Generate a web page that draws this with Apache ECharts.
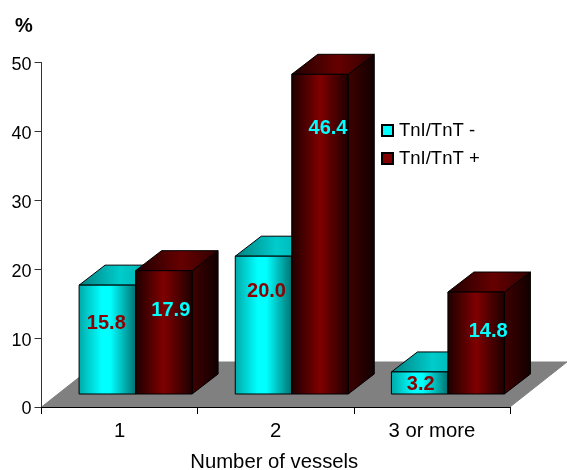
<!DOCTYPE html>
<html>
<head>
<meta charset="utf-8">
<style>
html, body { margin: 0; padding: 0; background: #fff; }
#chart { width: 567px; height: 470px; }
</style>
<script src="https://cdn.jsdelivr.net/npm/echarts@6/dist/echarts.min.js"></script>
</head>
<body>
<div id="chart"></div>
<script>
var categories = ['1', '2', '3 or more'];
var negativeValues = [15.8, 20.0, 3.2];
var positiveValues = [17.9, 46.4, 14.8];
var yTicks = { min: 0, max: 50, interval: 10 };

// value labels were placed by hand in the original, [dx, dy] from top centre of the front face
var negativeNudge = [[-1, 38], [3, 35], [1, 13]];
var positiveNudge = [[7, 40], [8, 54], [12, 39]];

var FONT = '"Liberation Sans", Arial, sans-serif';
var BAR_W = 56.5, DEPTH_X = 26, DEPTH_Y = 20;
var FLOOR_X = 57, FLOOR_Y = 45, LIFT = 13;

function hGrad(stops) {
    return new echarts.graphic.LinearGradient(0, 0, 1, 0, stops.map(function(s) {
        return { offset: s[0], color: s[1] };
    }));
}

var cyanFront = hGrad([[0, '#00a8a8'], [0.4, '#00ffff'], [0.55, '#00ffff'], [1, '#007070']]);
var cyanTop = hGrad([[0, '#008080'], [0.5, '#00cccc'], [1, '#00a0a0']]);
var cyanSide = hGrad([[0, '#006060'], [1, '#003030']]);
var redFront = hGrad([[0, '#1c0000'], [0.5, '#800000'], [1, '#1c0000']]);
var redTop = hGrad([[0, '#200000'], [0.55, '#660000'], [1, '#300000']]);
var redSide = hGrad([[0, '#400000'], [1, '#100000']]);

function barRenderer(slot, front, top, side, labelColor, nudge) {
    return function(params, api) {
        var i = api.value(0);
        var topPt = api.coord([i, api.value(1)]);
        var basePt = api.coord([i, 0]);
        var x0 = topPt[0] - 40.5 + slot * BAR_W;
        var x1 = x0 + BAR_W;
        var yTop = topPt[1] - LIFT;
        var yBase = basePt[1] - LIFT;
        function poly(points, fill) {
            return {
                type: 'polygon',
                shape: { points: points },
                style: { fill: fill, stroke: '#000', lineWidth: 1, lineJoin: 'round' }
            };
        }
        return {
            type: 'group',
            children: [
                poly([[x1, yTop], [x1 + DEPTH_X, yTop - DEPTH_Y], [x1 + DEPTH_X, yBase - DEPTH_Y], [x1, yBase]], side),
                poly([[x0, yTop], [x0 + DEPTH_X, yTop - DEPTH_Y], [x1 + DEPTH_X, yTop - DEPTH_Y], [x1, yTop]], top),
                poly([[x0, yTop], [x1, yTop], [x1, yBase], [x0, yBase]], front),
                {
                    type: 'text',
                    z2: 10,
                    style: {
                        text: api.value(1).toFixed(1),
                        x: (x0 + x1) / 2 + nudge[i][0],
                        y: yTop + nudge[i][1],
                        fill: labelColor,
                        font: 'bold 20px ' + FONT,
                        align: 'center',
                        verticalAlign: 'middle'
                    }
                }
            ]
        };
    };
}

function floorRenderer(params) {
    var c = params.coordSys;
    var yb = c.y + c.height;
    return {
        type: 'polygon',
        shape: { points: [[c.x, yb], [c.x + c.width, yb], [c.x + c.width + FLOOR_X, yb - FLOOR_Y], [c.x + FLOOR_X, yb - FLOOR_Y]] },
        style: { fill: '#808080', stroke: '#808080', lineWidth: 1 }
    };
}

function toRows(values) {
    return values.map(function(v, i) { return [i, v]; });
}

var myChart = echarts.init(document.getElementById('chart'), null, { renderer: 'canvas' });
myChart.setOption({
    animation: false,
    backgroundColor: '#fff',
    textStyle: { fontFamily: FONT },
    title: {
        text: '%',
        left: 10,
        top: 11,
        textStyle: { fontSize: 20, fontWeight: 'bold', color: '#000', fontFamily: FONT }
    },
    legend: {
        orient: 'vertical',
        left: 376,
        top: 116,
        itemWidth: 11,
        itemHeight: 11,
        itemGap: 9,
        icon: 'rect',
        selectedMode: false,
        data: ['TnI/TnT -', 'TnI/TnT +'],
        textStyle: { fontSize: 18.5, color: '#000', fontFamily: FONT, padding: [0, 0, 0, 1] }
    },
    grid: { left: 41.5, right: 57, top: 62.5, bottom: 63, outerBoundsMode: 'none' },
    xAxis: {
        type: 'category',
        data: categories,
        z: 5,
        name: 'Number of vessels',
        nameLocation: 'middle',
        nameGap: 55,
        nameTextStyle: { fontSize: 20.3, color: '#000', fontFamily: FONT, verticalAlign: 'middle', padding: [0, 3, 0, 0] },
        axisLine: { lineStyle: { color: '#000', width: 1 } },
        axisTick: { show: true, length: 7, alignWithLabel: false, lineStyle: { color: '#000' } },
        axisLabel: { fontSize: 20.3, color: '#000', margin: 14, fontFamily: FONT }
    },
    yAxis: {
        type: 'value',
        min: yTicks.min,
        max: yTicks.max,
        interval: yTicks.interval,
        z: 5,
        axisLine: { show: true, lineStyle: { color: '#333', width: 1 } },
        axisTick: { show: true, length: 7, lineStyle: { color: '#333' } },
        axisLabel: {
            margin: 10,
            formatter: '{v|{value}}',
            rich: { v: { fontSize: 18, color: '#000', fontFamily: FONT, padding: [5, 0, 0, 0] } }
        },
        splitLine: { show: false }
    },
    series: [
        {
            type: 'custom',
            name: 'floor',
            silent: true,
            z: 1,
            data: [[0, 0]],
            renderItem: floorRenderer
        },
        {
            type: 'custom',
            name: 'TnI/TnT -',
            z: 2,
            encode: { x: 0, y: 1 },
            itemStyle: { color: '#00ffff', borderColor: '#000', borderWidth: 1 },
            data: toRows(negativeValues),
            renderItem: barRenderer(0, cyanFront, cyanTop, cyanSide, '#8b0000', negativeNudge)
        },
        {
            type: 'custom',
            name: 'TnI/TnT +',
            z: 3,
            encode: { x: 0, y: 1 },
            itemStyle: { color: '#800000', borderColor: '#000', borderWidth: 1 },
            data: toRows(positiveValues),
            renderItem: barRenderer(1, redFront, redTop, redSide, '#00ffff', positiveNudge)
        }
    ]
});
</script>
</body>
</html>
